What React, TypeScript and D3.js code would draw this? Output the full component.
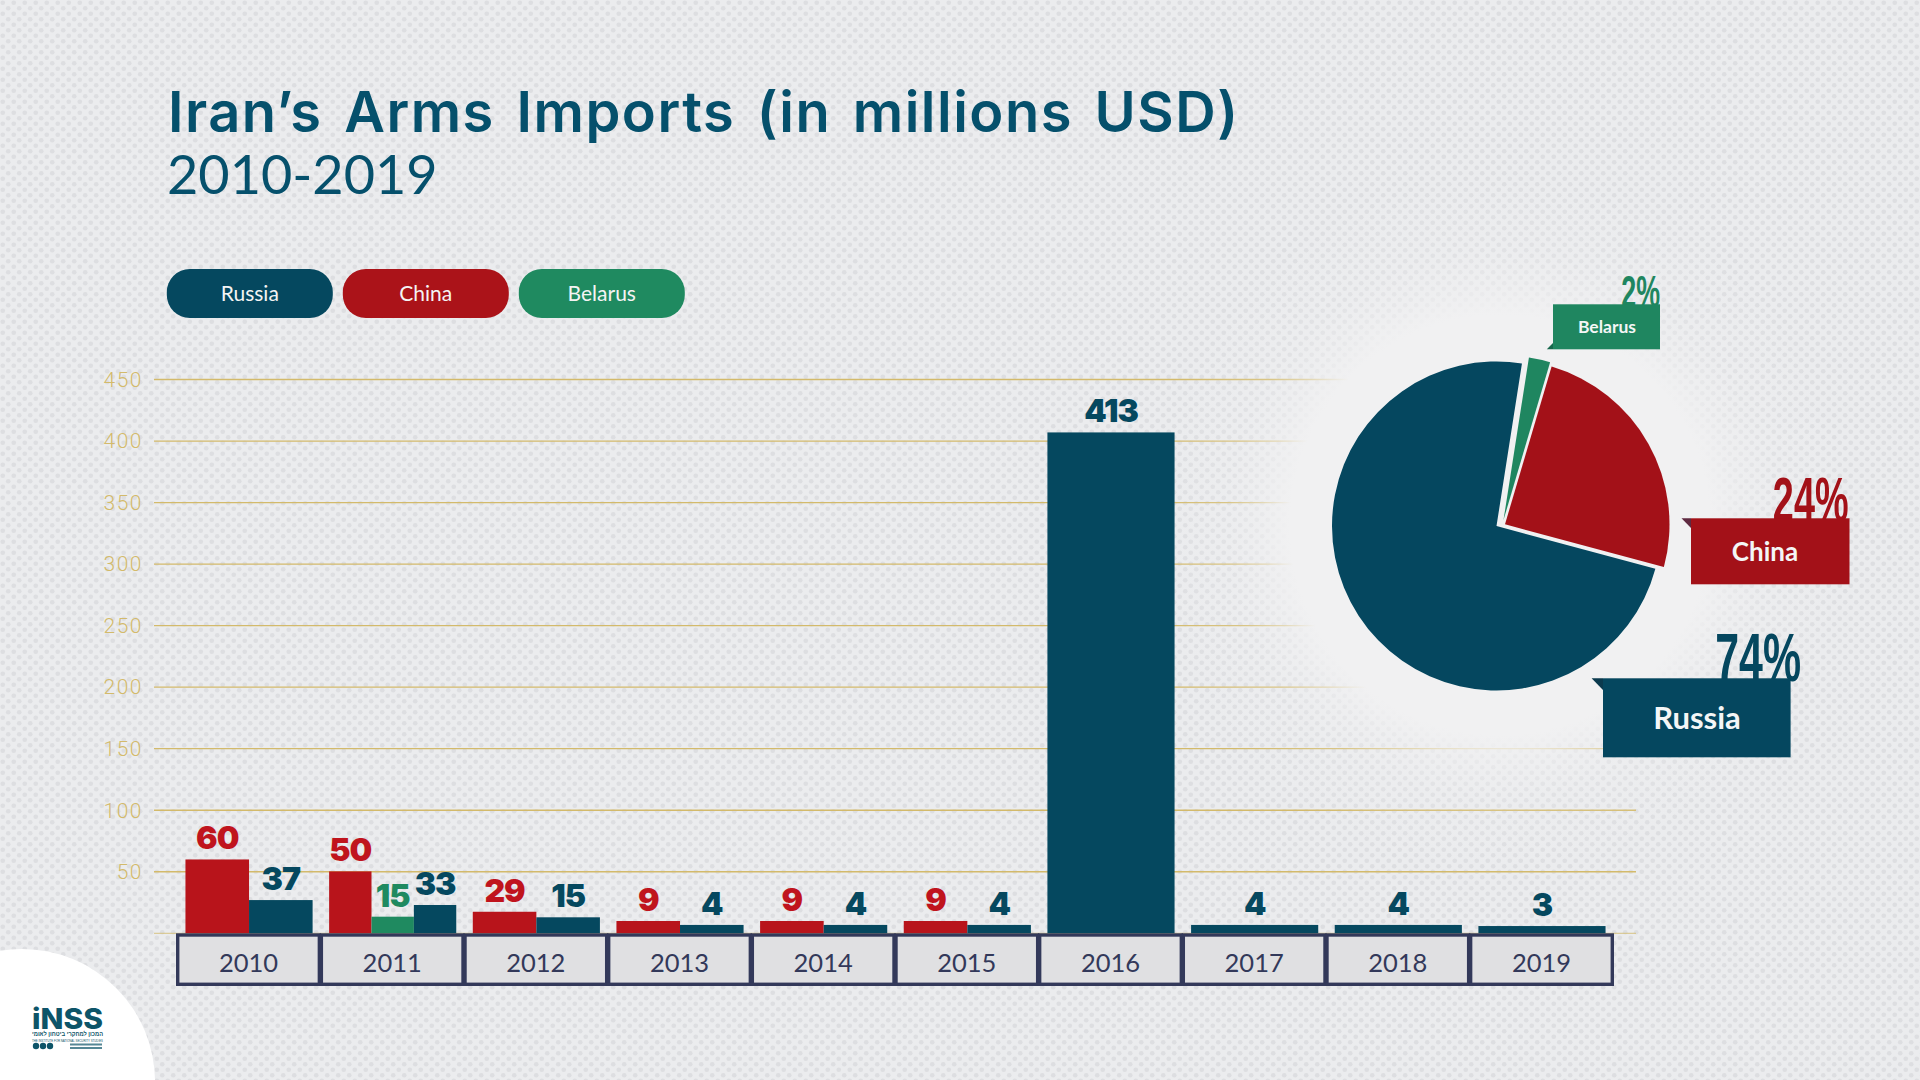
import { useEffect, useRef } from 'react';
import * as d3 from 'd3';

const years = ['2010', '2011', '2012', '2013', '2014', '2015', '2016', '2017', '2018', '2019'];

// The source bars are not drawn to the numbers printed above them,
// so heights and labels are read off the picture separately.
const chinaHeights = [60, 50.3, 17.5, 10, 10, 10, null, null, null, null];
const belarusHeights = [null, 13.5, null, null, null, null, null, null, null, null];
const russiaHeights = [27, 23, 13, 6.8, 6.8, 6.8, 407, 6.8, 6.8, 5.9];

const chinaLabels = ['60', '50', '29', '9', '9', '9', null, null, null, null];
const belarusLabels = [null, '15', null, null, null, null, null, null, null, null];
const russiaLabels = ['37', '33', '15', '4', '4', '4', '413', '4', '4', '3'];

const yTicks = [50, 100, 150, 200, 250, 300, 350, 400, 450];

const legendNames = ['Russia', 'China', 'Belarus'];

const pieNames = ['Belarus', 'China', 'Russia'];
const pieSlices = [2.1, 24.6, 73.3];
const pieLabels = ['2%', '24%', '74%'];

const colors: Record<string, string> = { Russia: '#05485f', China: '#b8141b', Belarus: '#1f8a60' };
const legendColors: Record<string, string> = { Russia: '#05485f', China: '#ab1319', Belarus: '#1f8a60' };
const pieColors: Record<string, string> = { Russia: '#05475f', China: '#a31118', Belarus: '#1f8660' };
const tailColors: Record<string, string> = { Russia: '#0b3a4e', China: '#5f2a40', Belarus: '#17684c' };

const GOLD = '#d3ba6b';
const AXIS = '#33395a';
const HEADING = 'Lato, sans-serif';

export default function App() {
  const svgRef = useRef<SVGSVGElement>(null);

  useEffect(() => {
    if (!svgRef.current) return;
    const svg = d3.select(svgRef.current);
    svg.selectAll('*').remove();

    const defs = svg.append('defs');

    // Dotted paper background
    const dots = defs.append('pattern')
      .attr('id', 'dots')
      .attr('width', 11)
      .attr('height', 11)
      .attr('patternUnits', 'userSpaceOnUse');
    dots.append('rect').attr('width', 11).attr('height', 11).attr('fill', '#ebecee');
    [[2.75, 2.75], [8.25, 8.25]].forEach(([cx, cy]) => {
      dots.append('circle').attr('cx', cx).attr('cy', cy).attr('r', 2.3).attr('fill', '#dddee1');
    });

    const glow = defs.append('radialGradient')
      .attr('id', 'glow')
      .attr('gradientUnits', 'userSpaceOnUse')
      .attr('cx', 1500)
      .attr('cy', 525)
      .attr('r', 350);
    [[0, 1], [0.6, 1], [0.68, 0.55], [0.78, 0.2], [1, 0]].forEach(([o, a]) => {
      glow.append('stop').attr('offset', o).attr('stop-color', '#f1f1f2').attr('stop-opacity', a);
    });

    svg.append('rect').attr('width', 1920).attr('height', 1080).attr('fill', 'url(#dots)');

    // Title
    svg.append('text')
      .attr('x', 168)
      .attr('y', 131.5)
      .attr('fill', '#05506c')
      .attr('font-family', 'Inter, sans-serif')
      .attr('font-weight', 600)
      .attr('font-size', 56)
      .attr('letter-spacing', 1.5)
      .attr('word-spacing', 6)
      .text('Iran’s Arms Imports (in millions USD)');
    svg.append('text')
      .attr('x', 167)
      .attr('y', 194)
      .attr('fill', '#05506c')
      .attr('font-family', HEADING)
      .attr('font-weight', 400)
      .attr('font-size', 54)
      .text('2010-2019');

    // Legend
    legendNames.forEach((name, i) => {
      const g = svg.append('g').attr('transform', `translate(${166.8 + i * 176},269)`);
      g.append('rect').attr('width', 166).attr('height', 49).attr('rx', 23).attr('fill', legendColors[name]);
      g.append('text')
        .attr('x', 83)
        .attr('y', 32)
        .attr('text-anchor', 'middle')
        .attr('fill', '#f4f4f4')
        .attr('font-family', HEADING)
        .attr('font-size', 21)
        .text(name);
    });

    const y = d3.scaleLinear().domain([0, 450]).range([933.3, 379.5]);
    const x = d3.scaleBand<string>().domain(years).range([177.2, 1613.8]).paddingInner(0.115).paddingOuter(0.0575);
    const cell = d3.scaleBand<string>().domain(years).range([176.7, 1613.3]);

    // Grid lines and tick labels, the glow behind the pie washes them out
    const grid = svg.append('g');
    [0, ...yTicks].forEach((t) => {
      grid.append('line')
        .attr('x1', 154)
        .attr('x2', 1636)
        .attr('y1', y(t))
        .attr('y2', y(t))
        .attr('stroke', GOLD)
        .attr('stroke-opacity', t === 0 ? 0.65 : 1)
        .attr('stroke-width', 1.3);
    });
    yTicks.forEach((t) => {
      grid.append('text')
        .attr('x', 143)
        .attr('y', y(t) + 7.3)
        .attr('text-anchor', 'end')
        .attr('fill', GOLD)
        .attr('font-family', 'Roboto, sans-serif')
        .attr('font-weight', 300)
        .attr('font-size', 21)
        .attr('letter-spacing', 1.5)
        .text(t);
    });
    svg.append('circle').attr('cx', 1500).attr('cy', 525).attr('r', 350).attr('fill', 'url(#glow)');

    // Bars
    const seriesRows = [
      { name: 'China', heights: chinaHeights, labels: chinaLabels },
      { name: 'Belarus', heights: belarusHeights, labels: belarusLabels },
      { name: 'Russia', heights: russiaHeights, labels: russiaLabels },
    ];
    const labelLayer = svg.append('g');
    years.forEach((year, i) => {
      const active = seriesRows.filter((s) => s.heights[i] !== null);
      const inner = d3.scaleBand<string>()
        .domain(active.map((s) => s.name))
        .range([x(year) || 0, (x(year) || 0) + x.bandwidth()]);
      active.forEach((s) => {
        const top = y(s.heights[i] as number);
        svg.append('rect')
          .attr('x', inner(s.name) || 0)
          .attr('y', top)
          .attr('width', inner.bandwidth())
          .attr('height', y(0) - top)
          .attr('fill', colors[s.name]);
        labelLayer.append('text')
          .attr('x', (inner(s.name) || 0) + inner.bandwidth() / 2)
          .attr('y', top - 10)
          .attr('text-anchor', 'middle')
          .attr('fill', s.name === 'China' ? '#c0141d' : colors[s.name])
          .attr('font-family', 'Inter, sans-serif')
          .attr('font-weight', 900)
          .attr('font-size', 32)
          .attr('letter-spacing', -1)
          .text(s.labels[i] as string);
      });
    });
    labelLayer.raise();

    // Year cells
    years.forEach((year) => {
      const left = cell(year) || 0;
      svg.append('rect')
        .attr('x', left + 1)
        .attr('y', 935)
        .attr('width', cell.bandwidth() - 2)
        .attr('height', 49.3)
        .attr('fill', '#e0e0e2')
        .attr('stroke', AXIS)
        .attr('stroke-width', 3.4);
      svg.append('text')
        .attr('x', left + cell.bandwidth() / 2)
        .attr('y', 971.5)
        .attr('text-anchor', 'middle')
        .attr('fill', AXIS)
        .attr('font-family', HEADING)
        .attr('font-size', 25.5)
        .text(year);
    });

    // Pie, slices pulled out of the centre a little
    const pieCentre = { x: 1496.5, y: 526 };
    const sliceShift: Record<string, number[]> = { Russia: [0, 0], China: [8.5, -1.7], Belarus: [7, -6] };
    const startAngle = (8.9 * Math.PI) / 180;
    const pie = d3.pie<number>().sort(null).startAngle(startAngle).endAngle(startAngle + Math.PI * 2);
    const arc = d3.arc<d3.PieArcDatum<number>>().innerRadius(0).outerRadius(164.5);
    pie(pieSlices).forEach((d, i) => {
      const name = pieNames[i];
      svg.append('path')
        .attr('d', arc(d) || '')
        .attr('transform', `translate(${pieCentre.x + sliceShift[name][0]},${pieCentre.y + sliceShift[name][1]})`)
        .attr('fill', pieColors[name]);
    });

    // Callouts: percentage sits half behind its box
    const callouts: Record<string, any> = {
      Belarus: { x0: 1553, x1: 1660, y0: 304.3, y1: 349.3, size: 17.5, pct: 44, squeeze: 0.61, pctRight: 1660, tail: [[1546.8, 349.3], [1553, 349.3], [1553, 343]], textY: 333, textX: 1607 },
      China: { x0: 1691, x1: 1849.5, y0: 518.3, y1: 584.3, size: 26, pct: 63, squeeze: 0.6, pctRight: 1848.5, tail: [[1681.5, 518.3], [1691, 518.3], [1691, 528]], textY: 561, textX: 1765 },
      Russia: { x0: 1603, x1: 1790.6, y0: 678.3, y1: 757.3, size: 31, pct: 68, squeeze: 0.63, pctRight: 1801, tail: [[1591.6, 678.3], [1603, 678.3], [1603, 690]], textY: 729, textX: 1697 },
    };
    pieNames.forEach((name, i) => {
      const c = callouts[name];
      svg.append('text')
        .attr('transform', `translate(${c.pctRight},${c.y0 + 3}) scale(${c.squeeze},1)`)
        .attr('text-anchor', 'end')
        .attr('fill', pieColors[name])
        .attr('font-family', 'Liberation Sans, sans-serif')
        .attr('font-weight', 700)
        .attr('font-size', c.pct)
        .text(pieLabels[i]);
      svg.append('path')
        .attr('d', d3.line()(c.tail) + 'Z')
        .attr('fill', tailColors[name]);
      svg.append('rect')
        .attr('x', c.x0)
        .attr('y', c.y0)
        .attr('width', c.x1 - c.x0)
        .attr('height', c.y1 - c.y0)
        .attr('fill', pieColors[name]);
      svg.append('text')
        .attr('x', c.textX)
        .attr('y', c.textY)
        .attr('text-anchor', 'middle')
        .attr('fill', '#f4f6f6')
        .attr('font-family', HEADING)
        .attr('font-weight', 700)
        .attr('font-size', c.size)
        .text(name);
    });

    // Logo corner
    svg.append('circle').attr('cx', 22).attr('cy', 1082).attr('r', 133).attr('fill', '#ffffff');
    const logo = svg.append('g').attr('fill', '#0d5468');
    logo.append('text')
      .attr('x', 32)
      .attr('y', 1029)
      .attr('textLength', 71)
      .attr('lengthAdjust', 'spacingAndGlyphs')
      .attr('font-family', 'Inter, sans-serif')
      .attr('font-weight', 800)
      .attr('font-size', 28)
      .text('iNSS');
    logo.append('text')
      .attr('x', 103)
      .attr('y', 1036)
      .attr('direction', 'rtl')
      .attr('textLength', 71)
      .attr('lengthAdjust', 'spacingAndGlyphs')
      .attr('font-family', 'Liberation Sans, sans-serif')
      .attr('font-weight', 700)
      .attr('font-size', 6)
      .text('המכון למחקרי ביטחון לאומי');
    logo.append('text')
      .attr('x', 32)
      .attr('y', 1041.5)
      .attr('textLength', 71)
      .attr('lengthAdjust', 'spacingAndGlyphs')
      .attr('font-family', 'Liberation Sans, sans-serif')
      .attr('font-size', 3)
      .text('THE INSTITUTE FOR NATIONAL SECURITY STUDIES');
    [36, 43, 50].forEach((cx) => {
      logo.append('circle').attr('cx', cx).attr('cy', 1046).attr('r', 3.2);
    });
    [1043.5, 1047].forEach((ly) => {
      logo.append('rect').attr('x', 70).attr('y', ly).attr('width', 32).attr('height', 2).attr('fill-opacity', 0.7);
    });
  }, []);

  return (
    <svg
      ref={svgRef}
      width={1920}
      height={1080}
      style={{ position: 'absolute', left: 0, top: 0, display: 'block' }}
    />
  );
}
